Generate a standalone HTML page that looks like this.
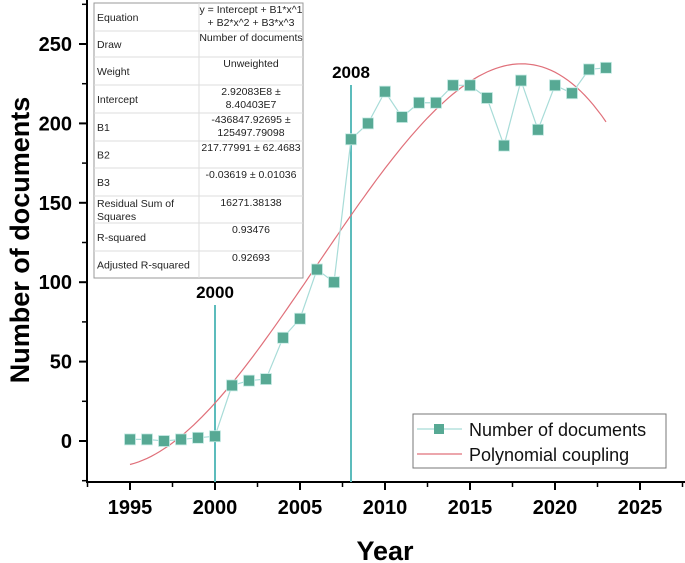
<!DOCTYPE html>
<html><head><meta charset="utf-8"><style>
body{margin:0;background:#fff}
svg{display:block;font-family:"Liberation Sans",sans-serif}
</style></head><body>
<svg id="c" width="685" height="563" viewBox="0 0 685 563"></svg>
<script>
const years=[1995,1996,1997,1998,1999,2000,2001,2002,2003,2004,2005,2006,2007,2008,2009,2010,2011,2012,2013,2014,2015,2016,2017,2018,2019,2020,2021,2022,2023];
const docs=[1,1,0,1,2,3,35,38,39,65,77,108,100,190,200,220,204,213,213,224,224,216,186,227,196,224,219,234,235];
const xTicks=[1995,2000,2005,2010,2015,2020,2025];
const yTicks=[0,50,100,150,200,250];
const markerYears=[2000,2008];
const tableRows=[["Equation",["y = Intercept + B1*x^1","+ B2*x^2 + B3*x^3"]],["Draw",["Number of documents"]],["Weight",["Unweighted"]],["Intercept",["2.92083E8 ± ","8.40403E7"]],["B1",["-436847.92695 ± ","125497.79098"]],["B2",["217.77991 ± 62.4683"]],["B3",["-0.03619 ± 0.01036"]],["Residual Sum of|Squares",["16271.38138"]],["R-squared",["0.93476"]],["Adjusted R-squared",["0.92693"]]];
const NS="http://www.w3.org/2000/svg";
const svg=document.getElementById('c');
function X(v){return 130+(v-1995)*17;}
function Y(v){return 441-v*1.588;}
function el(t,a,p){const e=document.createElementNS(NS,t);for(const k in a)e.setAttribute(k,a[k]);(p||svg).appendChild(e);return e;}
let ax=el('path',{d:'M87,0 V482 H685',fill:'none',stroke:'#000','stroke-width':2});


xTicks.forEach((t,i)=>{
 el('line',{x1:X(t),x2:X(t),y1:482,y2:490,stroke:'#000','stroke-width':2});
 el('line',{x1:X(t+2.5),x2:X(t+2.5),y1:482,y2:487,stroke:'#000','stroke-width':1.5});
 if(i==0) el('line',{x1:X(t-2.5),x2:X(t-2.5),y1:482,y2:487,stroke:'#000','stroke-width':1.5});
 const tx=el('text',{x:X(t),y:514,'text-anchor':'middle','font-size':20,'font-weight':'bold'});tx.textContent=t;
 
 
});
yTicks.forEach(t=>{
 el('line',{x1:79,x2:87,y1:Y(t),y2:Y(t),stroke:'#000','stroke-width':2});
 el('line',{x1:82,x2:87,y1:Y(t+25),y2:Y(t+25),stroke:'#000','stroke-width':1.5});
 if(t==0) el('line',{x1:82,x2:87,y1:Y(-25),y2:Y(-25),stroke:'#000','stroke-width':1.5});
 const tx=el('text',{x:72,y:Y(t)+7,'text-anchor':'end','font-size':20,'font-weight':'bold'});tx.textContent=t;
 
 
});
let xt=el('text',{x:385,y:560,'text-anchor':'middle','font-size':27,'font-weight':'bold'});xt.textContent='Year';


let yt=el('text',{x:0,y:0,transform:'translate(29,240) rotate(-90)','text-anchor':'middle','font-size':27,'font-weight':'bold'});yt.textContent='Number of documents';


markerYears.forEach((m,i)=>{
 const top=i==0?305:85;
 const l=el('line',{x1:X(m),x2:X(m),y1:top,y2:482,stroke:'#5cbcbc','stroke-width':2});
 
 
 const t=el('text',{x:X(m),y:top-7,'text-anchor':'middle','font-size':17,'font-weight':'bold'});t.textContent=m;
 
 
});
(function(){
 const c=2009,n=4,A=[];for(let i=0;i<n;i++){A.push(new Array(n+1).fill(0));}
 years.forEach((yr,k)=>{const x=(yr-c)/10;for(let i=0;i<n;i++){for(let j=0;j<n;j++)A[i][j]+=Math.pow(x,i+j);A[i][n]+=Math.pow(x,i)*docs[k];}});
 for(let i=0;i<n;i++){let p=i;for(let r=i+1;r<n;r++)if(Math.abs(A[r][i])>Math.abs(A[p][i]))p=r;[A[i],A[p]]=[A[p],A[i]];for(let r=0;r<n;r++){if(r==i)continue;const f=A[r][i]/A[i][i];for(let j=i;j<=n;j++)A[r][j]-=f*A[i][j];}}
 const b=A.map((r,i)=>r[n]/r[i]);
 let d='';for(let yr=years[0];yr<=years[years.length-1]+0.001;yr+=0.25){const x=(yr-c)/10;const v=b[0]+b[1]*x+b[2]*x*x+b[3]*x*x*x;d+=(d?'L':'M')+X(yr).toFixed(1)+','+Y(v).toFixed(1);}
 const p=el('path',{d:d,fill:'none',stroke:'#e0707a','stroke-width':1.2});
 
 
})();
let pd=years.map((y,i)=>(i?'L':'M')+X(y)+','+Y(docs[i])).join('');
let dl=el('path',{d:pd,fill:'none',stroke:'#a8dcd8','stroke-width':1.2});


years.forEach((y,i)=>{
 const r=el('rect',{x:X(y)-5.5,y:Y(docs[i])-5.5,width:11,height:11,fill:'#57a994',stroke:'#c8ece6','stroke-width':0.8});
 
 
});
const tg=el('g',{});


const rowY=[3,31,57,85,113,141,168,196,223,251,278];
el('rect',{x:94,y:3,width:209,height:275,fill:'#fff',stroke:'#999','stroke-width':1},tg);
el('line',{x1:199,x2:199,y1:3,y2:278,stroke:'#ddd'},tg);
tableRows.forEach((r,i)=>{
 const y0=rowY[i],y1=rowY[i+1];
 if(i>0) el('line',{x1:94,x2:303,y1:y0,y2:y0,stroke:'#ddd'},tg);
 const lab=r[0].split('|');
 lab.forEach((s,j)=>{const t=el('text',{x:97,y:(lab.length>1?y0+11+j*13:(y0+y1)/2+4),'font-size':10.5,fill:'#222'},tg);t.textContent=s;});
 r[1].forEach((s,j)=>{const t=el('text',{x:251,y:y0+10+j*13,'text-anchor':'middle','font-size':10.5,fill:'#222'},tg);t.textContent=s;});
});
const lg=el('g',{});


el('rect',{x:413,y:414,width:253,height:54,fill:'#fff',stroke:'#777'},lg);
el('line',{x1:417,x2:462,y1:429,y2:429,stroke:'#a8dcd8','stroke-width':1.2},lg);
el('rect',{x:434,y:424,width:10,height:10,fill:'#57a994'},lg);
let t1=el('text',{x:469,y:436,'font-size':18,fill:'#111'},lg);t1.textContent='Number of documents';


el('line',{x1:417,x2:462,y1:454,y2:454,stroke:'#e0707a','stroke-width':1.2},lg);
let t2=el('text',{x:469,y:461,'font-size':18,fill:'#111'},lg);t2.textContent='Polynomial coupling';


</script>
</body></html>
